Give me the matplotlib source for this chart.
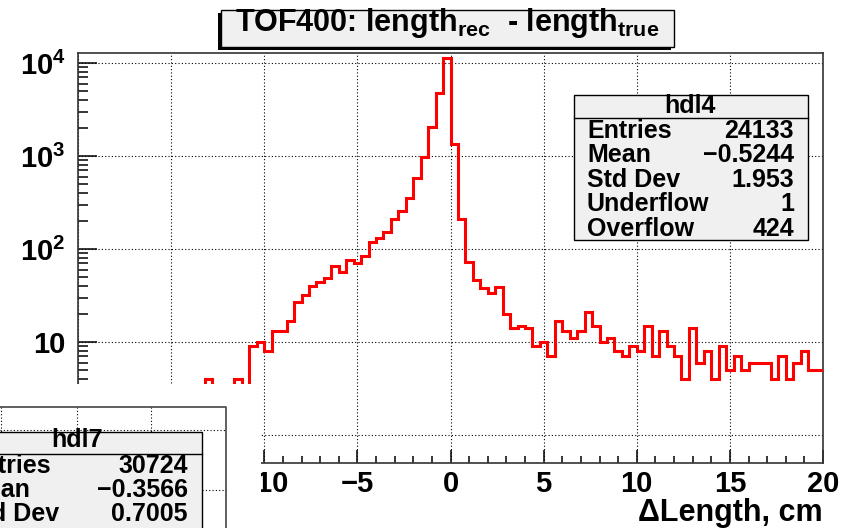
import numpy as np
import matplotlib
matplotlib.use("Agg")
import matplotlib.pyplot as plt
from matplotlib.patches import Rectangle
from matplotlib.ticker import MultipleLocator, LogLocator, NullFormatter

plt.rcParams["font.family"] = "Liberation Sans"
plt.rcParams["font.weight"] = "bold"
plt.rcParams["axes.labelweight"] = "bold"
plt.rcParams["mathtext.fontset"] = "custom"
for k in ("rm", "it", "bf", "sf"):
    plt.rcParams[f"mathtext.{k}"] = "Liberation Sans:bold"

# ---------------------------------------------------------------------------
# Data
# ---------------------------------------------------------------------------
x_lo, x_hi, n_bins = -20.0, 20.0, 100

counts = [
    0, 0, 0, 0, 0, 0, 0, 0, 0, 0,
    0, 0, 0, 0, 0, 0, 0, 4, 0, 0,
    0, 4, 0, 9, 10, 8, 13, 13, 17, 27,
    32, 40, 44, 49, 65, 56, 77, 70, 84, 118,
    130, 153, 210, 258, 356, 575, 980, 2070, 4790, 11200,
    1350, 210, 73, 46, 38, 34, 39, 20, 14, 15,
    14, 9, 10, 7, 17, 13, 11, 13, 21, 15,
    10, 11, 8, 7, 9, 8, 15, 7, 13, 9,
    7, 4, 14, 6, 8, 4, 9, 5, 7, 5,
    6, 6, 6, 4, 7, 4, 6, 8, 5, 5,
]

# labels hidden behind the lower-left pad in the picture are left blank
x_ticks = [-20, -15, -10, -5, 0, 5, 10, 15, 20]
x_ticklabels = ["", "", "\u221210", "\u22125", "0", "5", "10", "15", "20"]
y_ticks = [1, 10, 100, 1000, 10000]
y_ticklabels = ["", "10", "$10^{2}$", "$10^{3}$", "$10^{4}$"]

title = "TOF400: length$_{rec}$  - length$_{true}$"
x_title = "\u0394Length, cm"

stat_name = "hdl4"
stat_labels = ["Entries", "Mean", "Std Dev", "Underflow", "Overflow"]
stat_values = ["24133", "\u22120.5244", "1.953", "1", "424"]

inset_name = "hdl7"
inset_labels = ["Entries", "Mean", "Std Dev"]
inset_values = ["30724", "\u22120.3566", "0.7005"]

# ---------------------------------------------------------------------------
# Figure
# ---------------------------------------------------------------------------
W, H = 844, 528
fig = plt.figure(figsize=(W / 100, H / 100), dpi=100)


def pbox(left, top, right, bottom):
    """Pixel box (y down) -> figure fraction rect."""
    return [left / W, 1 - bottom / H, (right - left) / W, (bottom - top) / H]


ax = fig.add_axes(pbox(78, 53, 823, 463))
edges = np.linspace(x_lo, x_hi, n_bins + 1)
ax.stairs(counts, edges, baseline=None, color="#ff0000", lw=2.2, zorder=3)

ax.set_yscale("log", nonpositive="clip")
ax.set_xlim(x_lo, x_hi)
ax.set_ylim(0.5, 1.28e4)

ax.set_xticks(x_ticks, x_ticklabels)
ax.xaxis.set_minor_locator(MultipleLocator(1))
ax.set_yticks(y_ticks, y_ticklabels)
ax.yaxis.set_minor_locator(LogLocator(base=10, subs=range(2, 10)))
ax.yaxis.set_minor_formatter(NullFormatter())

ax.tick_params(axis="x", which="major", direction="in", length=9.5, width=1.1,
               labelsize=21, pad=5)
ax.tick_params(axis="x", which="minor", direction="in", length=5, width=1.1)
ax.tick_params(axis="y", which="major", direction="in", length=14, width=1.1,
               labelsize=21, pad=9)
ax.tick_params(axis="y", which="minor", direction="in", length=7.5, width=1.1)
ax.grid(True, which="major", ls=(0, (1, 2)), color="black", lw=0.8)
for s in ax.spines.values():
    s.set_color("#333333")
    s.set_linewidth(1.2)

ax.set_xlabel(x_title, loc="right", fontsize=22, fontweight="bold", labelpad=0)

# ---------------------------------------------------------------------------
# Decorations in pixel coordinates (title pave, stat boxes, covering pad)
# ---------------------------------------------------------------------------
deco = fig.add_axes([0, 0, 1, 1], zorder=5)
deco.set_xlim(0, W)
deco.set_ylim(H, 0)
deco.axis("off")

# title pave with shadow
deco.add_patch(Rectangle((218, 13), 453, 37, fc="black", ec="black", lw=0))
deco.add_patch(Rectangle((221, 10), 453, 37, fc="#f0f0f0", ec="black", lw=1))
deco.text(447, 31, title, ha="center", va="baseline", fontsize=22)

# stat box hdl4
fs = 18
deco.add_patch(Rectangle((574, 95), 234, 145, fc="#f0f0f0", ec="black", lw=1))
deco.plot([574, 808], [118, 118], color="black", lw=1)
deco.text(690, 113, stat_name, ha="center", va="baseline", fontsize=fs)
for i, (lab, val) in enumerate(zip(stat_labels, stat_values)):
    yb = 138 + 24.4 * i
    deco.text(587, yb, lab, ha="left", va="baseline", fontsize=fs)
    deco.text(794, yb, val, ha="right", va="baseline", fontsize=fs)

# covering pad in the lower-left corner
deco.add_patch(Rectangle((0, 384), 261, H - 384, fc="white", ec="none", zorder=1))
dot = dict(color="black", lw=0.8, ls=(0, (1, 2)), zorder=2)
for gx in (1, 76.5, 151):
    deco.plot([gx, gx], [407, 432], **dot)
deco.plot([0, 225.5], [429.5, 429.5], **dot)
deco.plot([202, 225.5], [489.5, 489.5], **dot)
deco.plot([0, 225.5, 225.5], [407, 407, H], color="#444444", lw=1.2, zorder=3)

deco.add_patch(Rectangle((-50, 432), 252, 120, fc="#f0f0f0", ec="black", lw=1, zorder=4))
deco.plot([0, 202], [454.3, 454.3], color="black", lw=1, zorder=4)
deco.text(77, 447, inset_name, ha="center", va="baseline", fontsize=fs, zorder=5)
for i, (lab, val) in enumerate(zip(inset_labels, inset_values)):
    yb = 473 + 24.2 * i
    deco.text(-34, yb, lab, ha="left", va="baseline", fontsize=fs, zorder=5)
    deco.text(188, yb, val, ha="right", va="baseline", fontsize=fs, zorder=5)

fig.savefig("out.png", dpi=100)
